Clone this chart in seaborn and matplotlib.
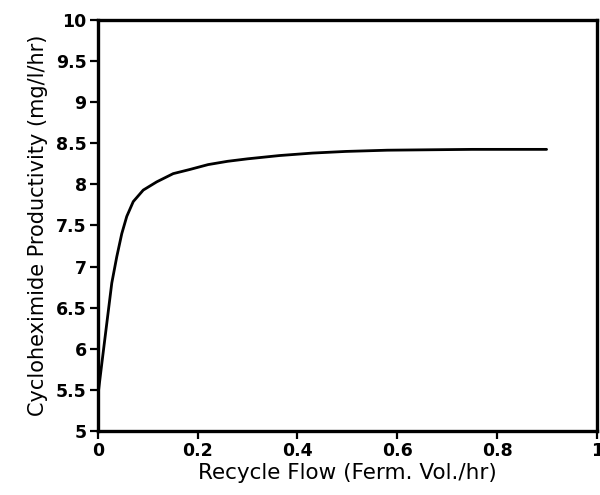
import matplotlib
matplotlib.use("Agg")
import matplotlib.pyplot as plt
import seaborn as sns
import pandas as pd

# Productivity versus recycle flow rate
recycle_flow = [0.0, 0.004, 0.008, 0.018, 0.028, 0.038, 0.048, 0.058, 0.071, 0.091,
                0.118, 0.151, 0.184, 0.221, 0.26, 0.30, 0.364, 0.43, 0.497, 0.58,
                0.663, 0.75, 0.83, 0.899]
productivity = [5.42, 5.62, 5.82, 6.31, 6.80, 7.12, 7.40, 7.61, 7.79, 7.93,
                8.03, 8.13, 8.18, 8.24, 8.28, 8.31, 8.35, 8.38, 8.40, 8.415,
                8.42, 8.425, 8.425, 8.425]

x_ticks = [0, 0.2, 0.4, 0.6, 0.8, 1]
x_tick_labels = ["0", "0.2", "0.4", "0.6", "0.8", "1"]
y_ticks = [5, 5.5, 6, 6.5, 7, 7.5, 8, 8.5, 9, 9.5, 10]
y_tick_labels = ["5", "5.5", "6", "6.5", "7", "7.5", "8", "8.5", "9", "9.5", "10"]

sns.set_theme(style="white")
plt.rcParams["font.family"] = ["DejaVu Sans"]

df = pd.DataFrame({"flow": recycle_flow, "prod": productivity})

fig = plt.figure(figsize=(6, 4.95), dpi=100)
ax = fig.add_axes([0.163, 0.129, 0.832, 0.831])
sns.lineplot(data=df, x="flow", y="prod", ax=ax, color="black", linewidth=2.0)

ax.set_xlim(0, 1)
ax.set_ylim(5, 10)
ax.set_xticks(x_ticks)
ax.set_xticklabels(x_tick_labels)
ax.set_yticks(y_ticks)
ax.set_yticklabels(y_tick_labels)
ax.tick_params(direction="out", length=6, width=1.6, labelsize=12.5,
               colors="black", bottom=True, left=True, pad=2)
for lbl in ax.get_xticklabels() + ax.get_yticklabels():
    lbl.set_fontweight("semibold")
for s in ax.spines.values():
    s.set_linewidth(2.4)
    s.set_color("black")

ax.set_xlabel("Recycle Flow (Ferm. Vol./hr)", fontsize=15.5, color="black", labelpad=2)
ax.set_ylabel("Cycloheximide Productivity (mg/l/hr)", fontsize=15, color="black", labelpad=6)

fig.savefig("out.png", dpi=100, facecolor="white")
